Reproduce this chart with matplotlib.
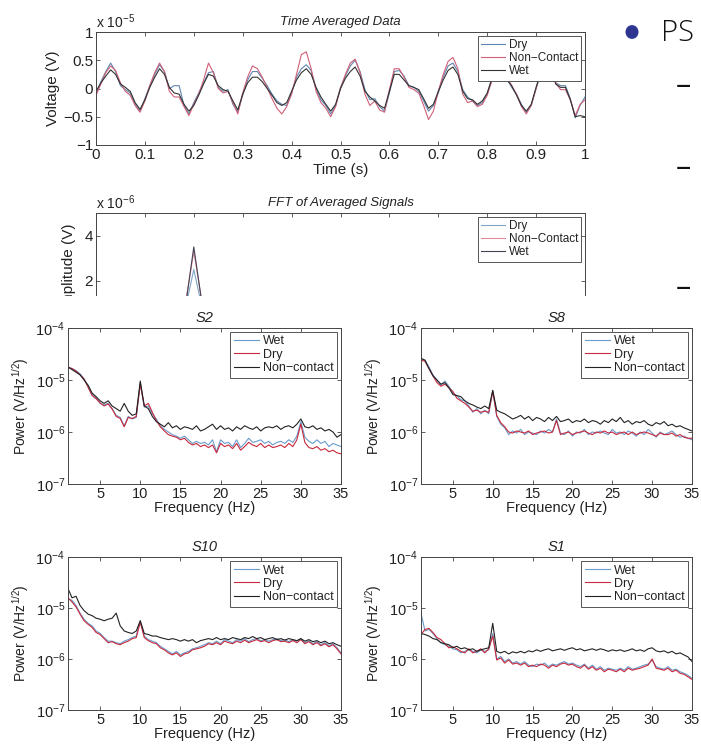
import matplotlib.pyplot as plt
import numpy as np
from matplotlib.patches import Rectangle, Circle

plt.rcParams['font.family'] = ['Liberation Sans', 'DejaVu Sans']
plt.rcParams['mathtext.fontset'] = 'custom'
plt.rcParams['mathtext.rm'] = 'Liberation Sans'
plt.rcParams['mathtext.it'] = 'Liberation Sans:italic'
plt.rcParams['axes.unicode_minus'] = True

# --- time averaged data (units of 1e-5 V), 0..1 s step 0.01 ---
time_s = np.round(np.arange(0, 101) * 0.01, 2)
ta_wet = [-0.05, 0.10, 0.22, 0.33, 0.25, 0.08, 0.02, -0.05, -0.25, -0.37,
          -0.20, 0.02, 0.20, 0.35, 0.25, 0.02, -0.08, -0.10, -0.28, -0.40,
          -0.30, -0.12, 0.08, 0.25, 0.22, 0.05, -0.02, -0.05, -0.22, -0.38,
          -0.10, 0.10, 0.20, 0.20, 0.12, 0.00, -0.12, -0.25, -0.30, -0.25,
          -0.05, 0.15, 0.28, 0.35, 0.25, 0.02, -0.15, -0.28, -0.40, -0.28,
          0.00, 0.18, 0.30, 0.38, 0.22, -0.05, -0.15, -0.22, -0.30, -0.35,
          -0.05, 0.25, 0.25, 0.15, 0.05, 0.02, -0.02, -0.18, -0.35, -0.28,
          -0.05, 0.15, 0.32, 0.38, 0.25, -0.05, -0.18, -0.20, -0.28, -0.22,
          -0.08, 0.18, 0.40, 0.45, 0.15, 0.05, -0.12, -0.30, -0.40, -0.28,
          0.02, 0.30, 0.45, 0.40, 0.08, 0.02, 0.02, -0.20, -0.50, -0.48,
          -0.50]
ta_dry = [-0.10, 0.12, 0.30, 0.45, 0.30, 0.05, -0.02, -0.08, -0.28, -0.40,
          -0.18, 0.05, 0.25, 0.42, 0.30, 0.00, 0.05, 0.05, -0.30, -0.45,
          -0.25, -0.08, 0.10, 0.28, 0.30, 0.02, -0.05, -0.02, -0.28, -0.42,
          -0.12, 0.15, 0.30, 0.30, 0.18, 0.05, -0.10, -0.22, -0.28, -0.30,
          -0.08, 0.20, 0.35, 0.42, 0.32, 0.00, -0.20, -0.30, -0.45, -0.30,
          0.02, 0.22, 0.40, 0.50, 0.30, -0.02, -0.20, -0.18, -0.32, -0.40,
          -0.08, 0.30, 0.32, 0.22, 0.05, 0.02, -0.05, -0.22, -0.40, -0.30,
          -0.08, 0.20, 0.40, 0.45, 0.30, -0.02, -0.15, -0.22, -0.30, -0.25,
          -0.10, 0.20, 0.42, 0.50, 0.20, 0.02, -0.10, -0.28, -0.42, -0.30,
          0.00, 0.28, 0.48, 0.45, 0.10, 0.05, 0.05, -0.18, -0.52, -0.30,
          -0.15]
ta_nc = [-0.12, 0.08, 0.28, 0.40, 0.32, 0.10, -0.05, -0.12, -0.30, -0.42,
         -0.22, 0.05, 0.28, 0.45, 0.30, -0.05, -0.15, -0.15, -0.32, -0.48,
         -0.28, -0.10, 0.15, 0.45, 0.28, 0.00, -0.08, -0.05, -0.25, -0.45,
         -0.08, 0.20, 0.40, 0.35, 0.20, 0.02, -0.18, -0.35, -0.45, -0.32,
         -0.10, 0.25, 0.60, 0.65, 0.35, -0.05, -0.25, -0.35, -0.50, -0.32,
         0.00, 0.25, 0.45, 0.52, 0.28, -0.10, -0.30, -0.22, -0.38, -0.42,
         -0.02, 0.35, 0.35, 0.20, 0.02, -0.02, -0.08, -0.30, -0.55, -0.40,
         -0.05, 0.25, 0.48, 0.55, 0.35, -0.10, -0.25, -0.22, -0.32, -0.28,
         -0.12, 0.15, 0.45, 0.52, 0.22, 0.05, -0.10, -0.32, -0.45, -0.30,
         0.00, 0.32, 0.50, 0.45, 0.10, -0.02, -0.02, -0.20, -0.48, -0.28,
         -0.20]

# --- FFT of averaged signals (units of 1e-6 V), 0..50 Hz ---
fft_freq = np.arange(0, 51)
fft_dry = [0.2, 0.3, 0.2, 0.3, 0.2, 0.3, 0.2, 0.3, 0.4, 0.5, 2.5,
           0.5, 0.3, 0.2, 0.3, 0.2, 0.2, 0.3, 0.2, 0.2, 0.3,
           0.2, 0.2, 0.2, 0.2, 0.3, 0.2, 0.2, 0.2, 0.2, 0.3,
           0.2, 0.2, 0.2, 0.2, 0.2, 0.2, 0.2, 0.2, 0.2, 0.2,
           0.2, 0.2, 0.2, 0.2, 0.2, 0.2, 0.2, 0.2, 0.2, 0.2]
fft_nc = [0.3, 0.4, 0.3, 0.3, 0.2, 0.3, 0.3, 0.3, 0.5, 0.6, 3.3,
          0.6, 0.3, 0.3, 0.2, 0.3, 0.2, 0.2, 0.3, 0.2, 0.4,
          0.2, 0.2, 0.3, 0.2, 0.2, 0.2, 0.2, 0.2, 0.2, 0.3,
          0.2, 0.2, 0.2, 0.2, 0.2, 0.2, 0.2, 0.2, 0.2, 0.2,
          0.2, 0.2, 0.2, 0.2, 0.2, 0.2, 0.2, 0.2, 0.2, 0.2]
fft_wet = [0.2, 0.3, 0.3, 0.2, 0.3, 0.2, 0.3, 0.2, 0.4, 0.4, 3.5,
           0.5, 0.3, 0.2, 0.2, 0.3, 0.2, 0.3, 0.2, 0.2, 0.3,
           0.2, 0.2, 0.2, 0.3, 0.2, 0.2, 0.2, 0.2, 0.2, 0.3,
           0.2, 0.2, 0.2, 0.2, 0.2, 0.2, 0.2, 0.2, 0.2, 0.2,
           0.2, 0.2, 0.2, 0.2, 0.2, 0.2, 0.2, 0.2, 0.2, 0.2]

# --- PSD panels, log10(V/Hz^1/2), 1..35 Hz step 0.5 ---
psd_freq = np.arange(2, 71) * 0.5

s2_wet = [-4.75, -4.78, -4.82, -4.88, -4.98, -5.12, -5.28, -5.35, -5.45, -5.48,
          -5.45, -5.55, -5.68, -5.72, -5.88, -5.70, -5.75, -5.72, -5.05, -5.52,
          -5.50, -5.65, -5.75, -5.88, -5.95, -6.00, -6.05, -6.08, -6.12, -6.08,
          -6.15, -6.22, -6.18, -6.22, -6.20, -6.25, -6.15, -6.38, -6.15, -6.22,
          -6.20, -6.28, -6.15, -6.30, -6.22, -6.12, -6.20, -6.18, -6.15, -6.22,
          -6.18, -6.25, -6.20, -6.18, -6.22, -6.15, -6.20, -6.08, -5.80, -6.10,
          -6.18, -6.22, -6.15, -6.22, -6.18, -6.28, -6.22, -6.25, -6.28]
s2_dry = [-4.76, -4.78, -4.83, -4.90, -4.98, -5.14, -5.30, -5.36, -5.44, -5.50,
          -5.46, -5.56, -5.70, -5.74, -5.90, -5.72, -5.74, -5.70, -5.08, -5.50,
          -5.45, -5.62, -5.78, -5.90, -5.98, -6.05, -6.08, -6.10, -6.15, -6.12,
          -6.20, -6.25, -6.22, -6.28, -6.25, -6.30, -6.25, -6.40, -6.22, -6.28,
          -6.25, -6.32, -6.22, -6.35, -6.28, -6.20, -6.25, -6.28, -6.22, -6.30,
          -6.25, -6.30, -6.28, -6.25, -6.30, -6.22, -6.28, -6.15, -5.85, -6.20,
          -6.30, -6.32, -6.28, -6.35, -6.32, -6.38, -6.35, -6.40, -6.42]
s2_nc = [-4.75, -4.80, -4.85, -4.90, -5.00, -5.10, -5.25, -5.32, -5.40, -5.45,
         -5.40, -5.50, -5.55, -5.60, -5.45, -5.60, -5.68, -5.65, -5.02, -5.50,
         -5.55, -5.70, -5.80, -5.85, -5.90, -5.82, -5.92, -5.88, -5.95, -5.90,
         -5.92, -5.95, -5.88, -5.98, -5.95, -5.90, -5.85, -5.95, -5.88, -5.95,
         -5.92, -5.98, -5.90, -5.95, -5.88, -5.92, -5.95, -5.90, -5.98, -5.92,
         -5.90, -5.92, -5.88, -5.95, -5.90, -5.88, -5.92, -5.85, -5.75, -5.90,
         -5.92, -5.88, -5.95, -5.92, -5.98, -5.95, -6.00, -6.10, -6.05]

s8_wet = [-4.60, -4.62, -4.75, -4.90, -5.00, -5.10, -5.02, -5.12, -5.25, -5.30,
          -5.38, -5.40, -5.50, -5.62, -5.55, -5.65, -5.58, -5.65, -5.20, -5.70,
          -5.85, -5.92, -6.05, -5.98, -6.02, -5.95, -6.05, -6.00, -6.02, -6.05,
          -5.98, -6.02, -5.95, -6.00, -5.75, -6.02, -6.05, -5.98, -6.08, -6.00,
          -6.02, -5.95, -6.05, -6.00, -6.02, -5.98, -6.02, -6.05, -5.95, -6.02,
          -6.00, -6.05, -5.98, -6.02, -6.08, -6.00, -6.05, -5.95, -6.02, -6.10,
          -6.00, -6.05, -6.02, -5.98, -6.05, -6.10, -6.08, -6.12, -6.15]
s8_dry = [-4.62, -4.64, -4.78, -4.92, -5.05, -5.12, -5.08, -5.15, -5.22, -5.35,
          -5.40, -5.45, -5.52, -5.60, -5.58, -5.62, -5.60, -5.62, -5.22, -5.68,
          -5.82, -5.90, -6.00, -6.02, -5.98, -6.00, -6.02, -5.98, -6.05, -6.02,
          -6.00, -5.98, -6.02, -6.00, -5.78, -6.05, -6.02, -6.00, -6.05, -6.02,
          -6.00, -5.98, -6.02, -6.05, -6.00, -6.02, -5.98, -6.02, -6.00, -6.05,
          -6.02, -6.00, -6.05, -6.00, -6.05, -6.02, -6.00, -6.02, -6.05, -6.08,
          -6.02, -6.05, -6.05, -6.02, -6.08, -6.05, -6.10, -6.12, -6.12]
s8_nc = [-4.58, -4.62, -4.78, -4.92, -5.00, -5.08, -5.05, -5.15, -5.28, -5.30,
         -5.32, -5.40, -5.45, -5.48, -5.52, -5.55, -5.50, -5.55, -5.20, -5.58,
         -5.62, -5.65, -5.70, -5.75, -5.72, -5.68, -5.75, -5.70, -5.78, -5.72,
         -5.75, -5.80, -5.72, -5.78, -5.70, -5.80, -5.78, -5.75, -5.82, -5.78,
         -5.80, -5.75, -5.82, -5.78, -5.80, -5.85, -5.78, -5.82, -5.75, -5.80,
         -5.72, -5.82, -5.78, -5.85, -5.80, -5.82, -5.78, -5.85, -5.88, -5.82,
         -5.85, -5.80, -5.88, -5.85, -5.90, -5.88, -5.92, -5.95, -5.98]

s10_wet = [-4.82, -4.85, -4.95, -5.10, -5.22, -5.30, -5.35, -5.45, -5.50, -5.58,
           -5.65, -5.65, -5.68, -5.70, -5.65, -5.62, -5.58, -5.55, -5.25, -5.55,
           -5.62, -5.65, -5.68, -5.75, -5.80, -5.85, -5.90, -5.85, -5.92, -5.88,
           -5.85, -5.80, -5.78, -5.75, -5.72, -5.68, -5.70, -5.65, -5.70, -5.62,
           -5.65, -5.68, -5.62, -5.65, -5.60, -5.66, -5.62, -5.60, -5.64, -5.62,
           -5.65, -5.62, -5.60, -5.64, -5.62, -5.66, -5.62, -5.65, -5.60, -5.68,
           -5.64, -5.70, -5.66, -5.72, -5.68, -5.74, -5.70, -5.78, -5.88]
s10_dry = [-4.80, -4.88, -4.98, -5.12, -5.25, -5.32, -5.38, -5.48, -5.52, -5.60,
           -5.68, -5.66, -5.70, -5.72, -5.68, -5.65, -5.60, -5.58, -5.28, -5.58,
           -5.64, -5.68, -5.70, -5.78, -5.82, -5.88, -5.92, -5.88, -5.95, -5.90,
           -5.88, -5.82, -5.80, -5.78, -5.75, -5.70, -5.72, -5.68, -5.72, -5.65,
           -5.68, -5.70, -5.65, -5.68, -5.63, -5.68, -5.65, -5.62, -5.66, -5.64,
           -5.68, -5.64, -5.62, -5.66, -5.65, -5.68, -5.64, -5.68, -5.62, -5.70,
           -5.66, -5.72, -5.68, -5.74, -5.70, -5.76, -5.72, -5.80, -5.90]
s10_nc = [-4.62, -4.80, -4.77, -4.95, -5.05, -5.12, -5.15, -5.20, -5.22, -5.25,
          -5.22, -5.20, -5.10, -5.35, -5.45, -5.48, -5.50, -5.45, -5.25, -5.50,
          -5.52, -5.55, -5.55, -5.58, -5.60, -5.62, -5.60, -5.62, -5.65, -5.62,
          -5.65, -5.62, -5.68, -5.64, -5.62, -5.60, -5.62, -5.58, -5.62, -5.60,
          -5.62, -5.58, -5.60, -5.62, -5.58, -5.60, -5.56, -5.60, -5.58, -5.62,
          -5.60, -5.58, -5.62, -5.60, -5.63, -5.60, -5.62, -5.64, -5.60, -5.65,
          -5.62, -5.66, -5.64, -5.68, -5.65, -5.70, -5.68, -5.72, -5.75]

s1_wet = [-5.10, -5.45, -5.42, -5.50, -5.60, -5.68, -5.72, -5.75, -5.80, -5.82,
          -5.88, -5.85, -5.82, -5.85, -5.88, -5.82, -5.85, -5.82, -5.50, -6.00,
          -5.95, -6.05, -6.00, -6.08, -6.05, -6.10, -6.05, -6.12, -6.15, -6.10,
          -6.12, -6.08, -6.15, -6.10, -6.12, -6.08, -6.05, -6.10, -6.08, -6.12,
          -6.15, -6.10, -6.18, -6.12, -6.20, -6.15, -6.22, -6.18, -6.20, -6.22,
          -6.18, -6.22, -6.15, -6.20, -6.18, -6.15, -6.12, -6.10, -6.02, -6.15,
          -6.18, -6.20, -6.15, -6.22, -6.20, -6.25, -6.28, -6.32, -6.38]
s1_dry = [-5.52, -5.42, -5.40, -5.48, -5.58, -5.62, -5.70, -5.78, -5.76, -5.80,
          -5.85, -5.88, -5.80, -5.88, -5.85, -5.80, -5.88, -5.80, -5.55, -6.02,
          -5.98, -6.08, -6.02, -6.10, -6.08, -6.12, -6.08, -6.15, -6.12, -6.15,
          -6.10, -6.12, -6.18, -6.12, -6.15, -6.10, -6.08, -6.12, -6.10, -6.15,
          -6.18, -6.12, -6.20, -6.15, -6.22, -6.18, -6.25, -6.20, -6.22, -6.25,
          -6.20, -6.25, -6.18, -6.22, -6.20, -6.18, -6.15, -6.12, -6.00, -6.18,
          -6.20, -6.22, -6.18, -6.25, -6.22, -6.28, -6.30, -6.35, -6.40]
s1_nc = [-5.50, -5.52, -5.55, -5.60, -5.62, -5.68, -5.70, -5.72, -5.78, -5.75,
         -5.80, -5.78, -5.82, -5.80, -5.85, -5.82, -5.80, -5.78, -5.30, -5.85,
         -5.88, -5.85, -5.90, -5.86, -5.88, -5.85, -5.88, -5.84, -5.86, -5.82,
         -5.85, -5.82, -5.80, -5.84, -5.82, -5.80, -5.83, -5.80, -5.78, -5.82,
         -5.80, -5.84, -5.82, -5.80, -5.83, -5.80, -5.82, -5.85, -5.82, -5.84,
         -5.82, -5.85, -5.83, -5.80, -5.84, -5.82, -5.85, -5.80, -5.78, -5.84,
         -5.86, -5.84, -5.88, -5.85, -5.90, -5.88, -5.92, -5.96, -6.05]

panels = [("S2", s2_wet, s2_dry, s2_nc),
          ("S8", s8_wet, s8_dry, s8_nc),
          ("S10", s10_wet, s10_dry, s10_nc),
          ("S1", s1_wet, s1_dry, s1_nc)]

W, H = 701, 746
fig = plt.figure(figsize=(W / 100, H / 100), dpi=100)
ax_col = '#444444'
txt_col = '#222222'


def rect(left, top, right, bottom):
    # pixel box -> figure fraction
    return [left / W, 1 - bottom / H, (right - left) / W, (bottom - top) / H]


def style(ax, fs=10):
    ax.tick_params(direction='in', top=True, right=True, length=3, width=0.6,
                   colors=ax_col, labelcolor=txt_col, labelsize=fs, pad=2)
    for s in ax.spines.values():
        s.set_color(ax_col)
        s.set_linewidth(0.7)


def legend(ax, fs):
    lg = ax.legend(loc='upper right', fontsize=fs, frameon=True, fancybox=False,
                   framealpha=1, edgecolor='#555555', borderpad=0.3,
                   labelspacing=0.1, handlelength=2.0, handletextpad=0.3,
                   borderaxespad=0.3)
    lg.get_frame().set_linewidth(0.7)
    for t in lg.get_texts():
        t.set_color(txt_col)


# top: time averaged data
ax1 = fig.add_axes(rect(96, 32, 585, 145))
ax1.plot(time_s, ta_dry, color='#5f86b0', lw=0.8, label='Dry')
ax1.plot(time_s, ta_nc, color='#d06078', lw=0.8, label='Non\u2212Contact')
ax1.plot(time_s, ta_wet, color='#333333', lw=0.8, label='Wet')
ax1.set_xlim(0, 1)
ax1.set_ylim(-1, 1)
ax1.set_xticks(np.arange(0, 11) / 10)
ax1.set_xticklabels(['0', '0.1', '0.2', '0.3', '0.4', '0.5', '0.6', '0.7', '0.8', '0.9', '1'])
ax1.set_yticks([-1, -0.5, 0, 0.5, 1])
ax1.set_yticklabels(['\u22121', '\u22120.5', '0', '0.5', '1'])
style(ax1, 11)
ax1.set_xlabel('Time (s)', fontsize=11, color=txt_col, labelpad=1)
ax1.set_ylabel('Voltage (V)', fontsize=11, color=txt_col, labelpad=2)
ax1.set_title('Time Averaged Data', fontsize=9.5, style='italic', color=txt_col, pad=5)
ax1.text(0.0, 1.01, 'x 10$^{-5}$', transform=ax1.transAxes, fontsize=10,
         color=txt_col, ha='left', va='bottom')
legend(ax1, 8.5)

# second: FFT (lower part hidden by the PSD figure)
ax2 = fig.add_axes(rect(96, 213, 585, 326))
ax2.plot(fft_freq, fft_dry, color='#7fa6c8', lw=0.8, label='Dry')
ax2.plot(fft_freq, fft_nc, color='#e08a9a', lw=0.8, label='Non\u2212Contact')
ax2.plot(fft_freq, fft_wet, color='#444455', lw=0.8, label='Wet')
ax2.set_xlim(0, 50)
ax2.set_ylim(0, 5)
ax2.set_xticks(np.arange(0, 51, 5))
ax2.set_yticks([0, 2, 4])
style(ax2, 11)
ax2.tick_params(axis='x', labelbottom=False)  # hidden under the PSD picture anyway
ax2.set_ylabel('Amplitude (V)', fontsize=11, color=txt_col, labelpad=6)
ax2.set_title('FFT of Averaged Signals', fontsize=9.5, style='italic', color=txt_col, pad=5)
ax2.text(0.0, 1.01, 'x 10$^{-6}$', transform=ax2.transAxes, fontsize=10,
         color=txt_col, ha='left', va='bottom')
legend(ax2, 8.5)

# white cover for the overlapping PSD picture
cover = Rectangle((0, 0), 1, 1 - 296 / H, transform=fig.transFigure,
                  facecolor='white', edgecolor='none', zorder=5)
fig.patches.append(cover)

boxes = [(68, 328, 341, 484), (421, 328, 692, 484),
         (68, 557, 341, 710), (421, 557, 692, 710)]
for (name, wet, dry, nc), box in zip(panels, boxes):
    ax = fig.add_axes(rect(*box))
    ax.set_zorder(10)
    ax.plot(psd_freq, 10 ** np.array(wet), color='#6a9ccc', lw=0.8, label='Wet')
    ax.plot(psd_freq, 10 ** np.array(dry), color='#c8283c', lw=0.8, label='Dry')
    ax.plot(psd_freq, 10 ** np.array(nc), color='#222222', lw=0.8, label='Non\u2212contact')
    ax.set_yscale('log')
    ax.set_xlim(1, 35)
    ax.set_ylim(1e-7, 1e-4)
    ax.set_xticks([5, 10, 15, 20, 25, 30, 35])
    ax.set_yticks([1e-7, 1e-6, 1e-5, 1e-4])
    ax.minorticks_off()
    style(ax, 10.5)
    ax.set_xlabel('Frequency (Hz)', fontsize=10.5, color=txt_col, labelpad=0)
    ax.set_ylabel('Power (V/Hz$^{1/2}$)', fontsize=10, color=txt_col, labelpad=3)
    ax.set_title(name, fontsize=10.5, style='italic', color=txt_col, pad=4)
    legend(ax, 9)

# slide text on the right
fig.patches.append(Circle((632 / W, 1 - 32 / H), 6.5 / W, transform=fig.transFigure,
                          facecolor='#2e3590', edgecolor='none', zorder=6))
fig.text(661 / W, 1 - 33 / H, 'PS', fontsize=21, color='#111111', ha='left',
         va='center', family=['Open Sans', 'DejaVu Sans'], weight='light')
for y in [86, 168, 288]:
    fig.text(676 / W, 1 - y / H, '\u2013', fontsize=22, color='#111111', ha='left',
             va='center', family=['Open Sans', 'DejaVu Sans'], zorder=6)

fig.savefig('out.png', dpi=100)
